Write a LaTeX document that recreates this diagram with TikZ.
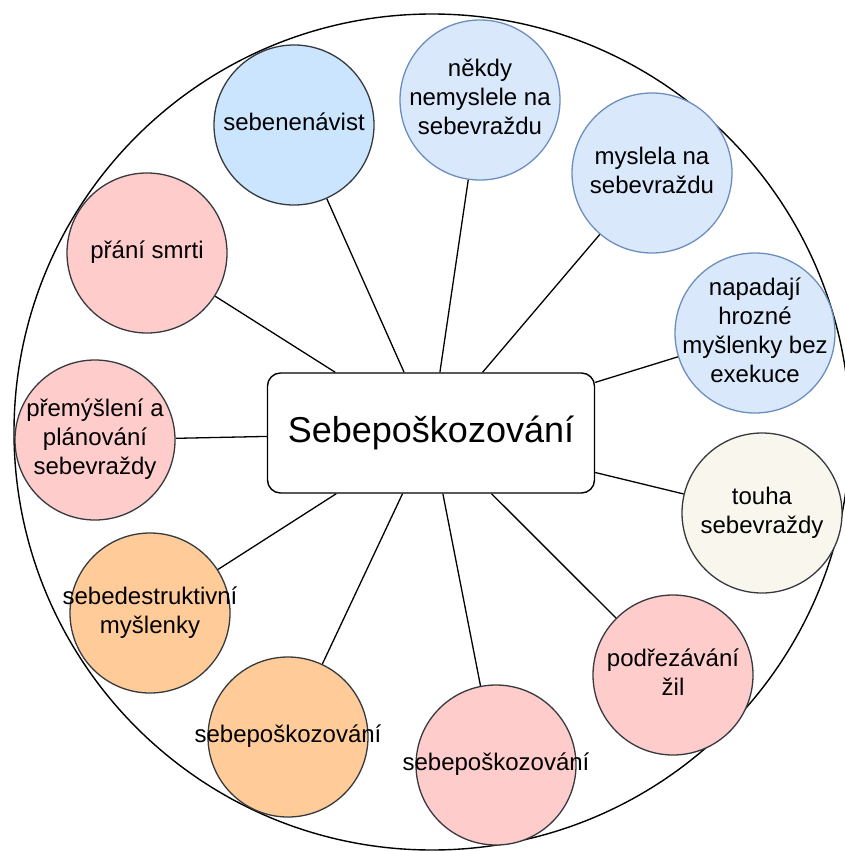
\documentclass[tikz,border=0pt]{standalone}
\usepackage{fontspec}
\setmainfont{Liberation Sans}
\usetikzlibrary{backgrounds}
\definecolor{fblue}{HTML}{CCE5FF}
\definecolor{lblue}{HTML}{DAE8FC}
\definecolor{sblue}{HTML}{6C8EBF}
\definecolor{fcream}{HTML}{F9F7ED}
\definecolor{fpink}{HTML}{FFCCCC}
\definecolor{forange}{HTML}{FFCC99}
\definecolor{sdark}{HTML}{36393D}
\newcommand{\bubtext}[1]{\makebox[0pt][c]{\begin{tabular}{@{}c@{}}#1\end{tabular}}}
\tikzset{
  bubble/.style={circle, minimum size=160pt, inner sep=0pt, line width=1.3pt,
    font=\fontsize{24}{29}\selectfont, text=black},
  darkb/.style={bubble, draw=sdark},
  blueb/.style={bubble, draw=sblue},
  link/.style={draw=black, line width=1.3pt},
}
\begin{document}
\begin{tikzpicture}[x=1pt,y=-1pt]
\useasboundingbox (0,0) rectangle (845,851);
\node[draw=black, line width=1.4pt, rounded corners=13pt, minimum width=327pt, minimum height=120pt,
  fill=white, font=\fontsize{36}{40}\selectfont] (c) at (431,433) {Sebepoškozování};
\node[darkb, fill=fblue] (n1) at (294,125) {\bubtext{sebenenávist}};
\node[blueb, fill=lblue] (n2) at (480,100) {\bubtext{někdy\\nemyslele na\\sebevraždu}};
\node[blueb, fill=lblue] (n3) at (652,173) {\bubtext{myslela na\\sebevraždu}};
\node[blueb, fill=lblue] (n4) at (755,333) {\bubtext{napadají\\hrozné\\myšlenky bez\\exekuce}};
\node[darkb, fill=fcream] (n5) at (762,513) {\bubtext{touha\\sebevraždy}};
\node[darkb, fill=fpink] (n6) at (673,675) {\bubtext{podřezávání\\žil}};
\node[darkb, fill=fpink] (n7) at (496,765) {\bubtext{sebepoškozování}};
\node[darkb, fill=forange] (n8) at (288,737) {\bubtext{sebepoškozování}};
\node[darkb, fill=forange] (n9) at (150,613) {\bubtext{sebedestruktivní\\myšlenky}};
\node[darkb, fill=fpink] (n10) at (95,440) {\bubtext{přemýšlení a\\plánování\\sebevraždy}};
\node[darkb, fill=fpink] (n11) at (147,253) {\bubtext{přání smrti}};
\begin{scope}[on background layer]
  \node[draw=black, line width=1.4pt, circle, minimum size=836pt, inner sep=0pt] (big) at (432,432) {};
  \foreach \n in {n1,n2,n3,n4,n5,n6,n7,n8,n9,n10,n11}
    \draw[link] (\n) -- (c);
\end{scope}
\end{tikzpicture}
\end{document}
